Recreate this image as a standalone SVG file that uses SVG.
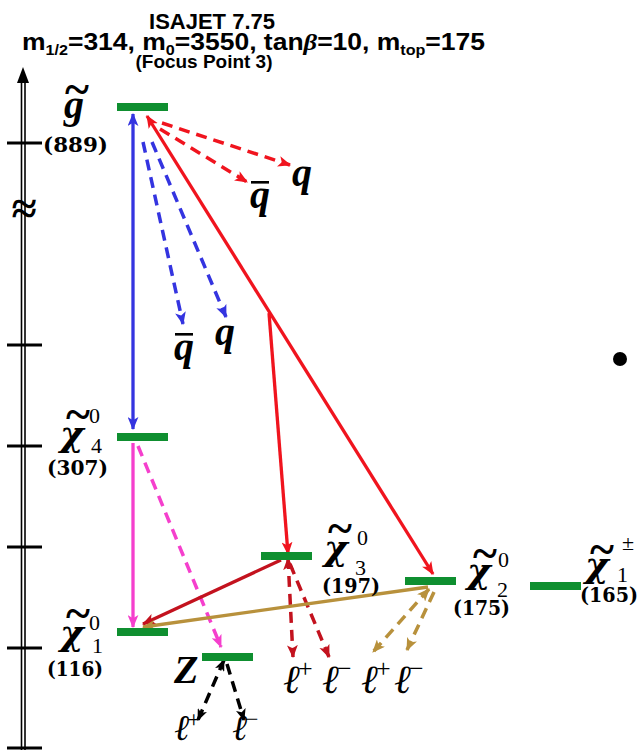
<svg xmlns="http://www.w3.org/2000/svg" width="640" height="750" viewBox="0 0 640 750">
<style>
.title{font-family:"Liberation Sans",Arial,sans-serif;font-weight:bold;fill:#000}
.bar{fill:#0f8f30}
.sym{font-family:"Liberation Serif","Times New Roman",serif;font-weight:bold;font-style:italic;fill:#000}
.chi{font-family:"DejaVu Serif","Liberation Serif",serif;font-weight:bold;font-style:italic;fill:#000}
.til{font-family:"Liberation Serif","Times New Roman",serif;font-weight:bold;fill:#000;text-anchor:middle}
.idx{font-family:"Liberation Serif","Times New Roman",serif;fill:#000}
.num{font-family:"DejaVu Serif","Liberation Serif",serif;font-weight:bold;fill:#000}
.lep{font-family:"DejaVu Serif","Liberation Serif",serif;font-style:italic;fill:#000}
.pm{font-family:"Liberation Serif","Times New Roman",serif;fill:#000}
.c{fill:none;stroke-width:3.3}
.d{fill:none;stroke-width:3.5;stroke-dasharray:11 7}
.blue{stroke:#3434e0}.red{stroke:#f0141e}.dred{stroke:#c3121e}.mag{stroke:#f53fcd}.gold{stroke:#b8913c}.blk{stroke:#000}
</style>
<defs>
<marker id="ab" viewBox="0 0 12 10" refX="11" refY="5" markerWidth="13" markerHeight="11" markerUnits="userSpaceOnUse" orient="auto-start-reverse"><path d="M0,0 L12,5 L0,10 L3,5 z" fill="#3434e0"/></marker>
<marker id="ar" viewBox="0 0 12 10" refX="11" refY="5" markerWidth="13" markerHeight="11" markerUnits="userSpaceOnUse" orient="auto-start-reverse"><path d="M0,0 L12,5 L0,10 L3,5 z" fill="#f0141e"/></marker>
<marker id="ad" viewBox="0 0 12 10" refX="11" refY="5" markerWidth="13" markerHeight="11" markerUnits="userSpaceOnUse" orient="auto-start-reverse"><path d="M0,0 L12,5 L0,10 L3,5 z" fill="#c3121e"/></marker>
<marker id="am" viewBox="0 0 12 10" refX="11" refY="5" markerWidth="13" markerHeight="11" markerUnits="userSpaceOnUse" orient="auto-start-reverse"><path d="M0,0 L12,5 L0,10 L3,5 z" fill="#f53fcd"/></marker>
<marker id="ag" viewBox="0 0 12 10" refX="11" refY="5" markerWidth="13" markerHeight="11" markerUnits="userSpaceOnUse" orient="auto-start-reverse"><path d="M0,0 L12,5 L0,10 L3,5 z" fill="#b8913c"/></marker>
<marker id="ak" viewBox="0 0 12 10" refX="11" refY="5" markerWidth="12" markerHeight="10" markerUnits="userSpaceOnUse" orient="auto-start-reverse"><path d="M0,0 L12,5 L0,10 L3,5 z" fill="#000"/></marker>
</defs>
<rect width="640" height="750" fill="#fff"/>

<g id="title">
<text class="title" x="212" y="29" font-size="22" text-anchor="middle">ISAJET 7.75</text>
<text class="title" x="22" y="50" font-size="23" textLength="463" lengthAdjust="spacingAndGlyphs">m<tspan font-size="14" dy="5">1/2</tspan><tspan dy="-5">=314, m</tspan><tspan font-size="14" dy="5">0</tspan><tspan dy="-5">=3550, tan</tspan><tspan font-family="Liberation Serif,serif" font-style="italic">β</tspan>=10, m<tspan font-size="14" dy="5">top</tspan><tspan dy="-5">=175</tspan></text>
<text class="title" x="204" y="68" font-size="19" text-anchor="middle" textLength="137" lengthAdjust="spacingAndGlyphs">(Focus Point 3)</text>
</g>

<g id="axis">
<line x1="21.5" y1="80" x2="21.5" y2="750" stroke="#000" stroke-width="1.6"/>
<line x1="25" y1="80" x2="25" y2="750" stroke="#000" stroke-width="1.6"/>
<path d="M23,67 L29,83 L17,83 z" fill="#000"/>
<g stroke="#000" stroke-width="3">
<line x1="7" y1="143" x2="42" y2="143"/>
<line x1="7" y1="345" x2="42" y2="345"/>
<line x1="7" y1="446" x2="42" y2="446"/>
<line x1="7" y1="547" x2="42" y2="547"/>
<line x1="7" y1="648" x2="42" y2="648"/>
<line x1="7" y1="748" x2="42" y2="748"/>
</g>
<text x="24" y="224" font-family="Liberation Serif,serif" font-weight="bold" font-size="46" text-anchor="middle">≈</text>
</g>

<g id="connectors">
<path class="c blue" d="M133,114 L133,429" marker-start="url(#ab)" marker-end="url(#ab)"/>
<path class="d blue" d="M143,142 L183,324" marker-end="url(#ab)"/>
<path class="d blue" d="M152,142 L226,317" marker-end="url(#ab)"/>
<path class="d red" d="M162,123 L290,165" marker-end="url(#ar)"/>
<path class="d red" d="M160,129 L247,182" marker-end="url(#ar)"/>
<path class="c red" d="M147,116 L433,574" marker-start="url(#ar)" marker-end="url(#ar)"/>
<path class="c red" d="M269,313 L288,554" marker-end="url(#ar)"/>
<path class="c mag" d="M133,443 L133,627" marker-end="url(#am)"/>
<path class="d mag" d="M138,446 L221,647" marker-end="url(#am)"/>
<path class="c dred" d="M281,560 L143,624" marker-end="url(#ad)"/>
<path class="d dred" d="M288,558 L293,657" marker-start="url(#ad)" marker-end="url(#ad)"/>
<path class="d dred" d="M290,564 L329,657" marker-end="url(#ad)"/>
<path class="c gold" d="M428,587 L143,627" marker-end="url(#ag)"/>
<path class="d gold" d="M429,589 L373,652" marker-start="url(#ag)" marker-end="url(#ag)"/>
<path class="d gold" d="M434,592 L407,650" marker-end="url(#ag)"/>
<path class="d blk" d="M224,660 L198,720" marker-start="url(#ak)" marker-end="url(#ak)"/>
<path class="d blk" d="M227,664 L244,720" marker-end="url(#ak)"/>
</g>

<g id="gluino">
<rect class="bar" x="117" y="103" width="51" height="8"/>
<text class="sym" x="64" y="118" font-size="40">g</text>
<text class="til" x="77" y="105" font-size="46">~</text>
<text class="num" x="43" y="152" font-size="20" textLength="65" lengthAdjust="spacingAndGlyphs">(889)</text>
</g>

<g id="qq-red">
<text class="sym" x="292" y="186" font-size="40">q</text>
<text class="sym" x="250" y="208" font-size="40">q</text>
<rect x="251" y="181" width="18" height="2.6" fill="#000"/>
</g>

<g id="qq-blue">
<text class="sym" x="174" y="360" font-size="40">q</text>
<rect x="175" y="333" width="18" height="2.6" fill="#000"/>
<text class="sym" x="215" y="345" font-size="40">q</text>
</g>

<g id="chi4">
<rect class="bar" x="117" y="433" width="51" height="8"/>
<text class="chi" x="60" y="446" font-size="36">χ</text>
<text class="til" x="78" y="430" font-size="46">~</text>
<text class="idx" x="89" y="423" font-size="22">0</text>
<text class="idx" x="91" y="453" font-size="22">4</text>
<text class="num" x="47" y="475" font-size="20" textLength="61" lengthAdjust="spacingAndGlyphs">(307)</text>
</g>

<g id="chi1">
<rect class="bar" x="117" y="628" width="51" height="8"/>
<text class="chi" x="60" y="645" font-size="36">χ</text>
<text class="til" x="78" y="629" font-size="46">~</text>
<text class="idx" x="89" y="630" font-size="22">0</text>
<text class="idx" x="92" y="653" font-size="22">1</text>
<text class="num" x="47" y="676" font-size="20" textLength="56" lengthAdjust="spacingAndGlyphs">(116)</text>
</g>

<g id="chi3">
<rect class="bar" x="261" y="552" width="51" height="8"/>
<text class="chi" x="324" y="560" font-size="36">χ</text>
<text class="til" x="340" y="544" font-size="46">~</text>
<text class="idx" x="357" y="545" font-size="22">0</text>
<text class="idx" x="355" y="575" font-size="22">3</text>
<text class="num" x="322" y="593" font-size="20" textLength="58" lengthAdjust="spacingAndGlyphs">(197)</text>
</g>

<g id="chi2">
<rect class="bar" x="405" y="577" width="51" height="8"/>
<text class="chi" x="467" y="583" font-size="36">χ</text>
<text class="til" x="485" y="569" font-size="46">~</text>
<text class="idx" x="498" y="567" font-size="22">0</text>
<text class="idx" x="497" y="597" font-size="22">2</text>
<text class="num" x="453" y="615" font-size="20" textLength="57" lengthAdjust="spacingAndGlyphs">(175)</text>
</g>

<g id="chi1pm">
<rect class="bar" x="530" y="582" width="51" height="8"/>
<text class="chi" x="585" y="577" font-size="36">χ</text>
<text class="til" x="602" y="565" font-size="46">~</text>
<text class="idx" x="622" y="550" font-size="22">±</text>
<text class="idx" x="617" y="582" font-size="22">1</text>
<text class="num" x="580" y="602" font-size="20" textLength="58" lengthAdjust="spacingAndGlyphs">(165)</text>
</g>

<g id="Z">
<rect class="bar" x="202" y="653" width="51" height="8"/>
<text class="sym" x="174" y="683" font-size="40">Z</text>
</g>

<g id="leptons-chi3">
<text class="lep" x="283" y="693" font-size="40">ℓ</text><text class="pm" x="298" y="677" font-size="26">+</text>
<text class="lep" x="322" y="693" font-size="40">ℓ</text><text class="pm" x="337" y="677" font-size="26">−</text>
</g>
<g id="leptons-chi2">
<text class="lep" x="361" y="693" font-size="40">ℓ</text><text class="pm" x="376" y="677" font-size="26">+</text>
<text class="lep" x="394" y="693" font-size="40">ℓ</text><text class="pm" x="409" y="677" font-size="26">−</text>
</g>
<g id="leptons-Z">
<text class="lep" x="174" y="740" font-size="36">ℓ</text><text class="pm" x="187" y="727" font-size="24">+</text>
<text class="lep" x="232" y="740" font-size="36">ℓ</text><text class="pm" x="245" y="727" font-size="24">−</text>
</g>

<circle cx="620" cy="359" r="7" fill="#000"/>
</svg>
